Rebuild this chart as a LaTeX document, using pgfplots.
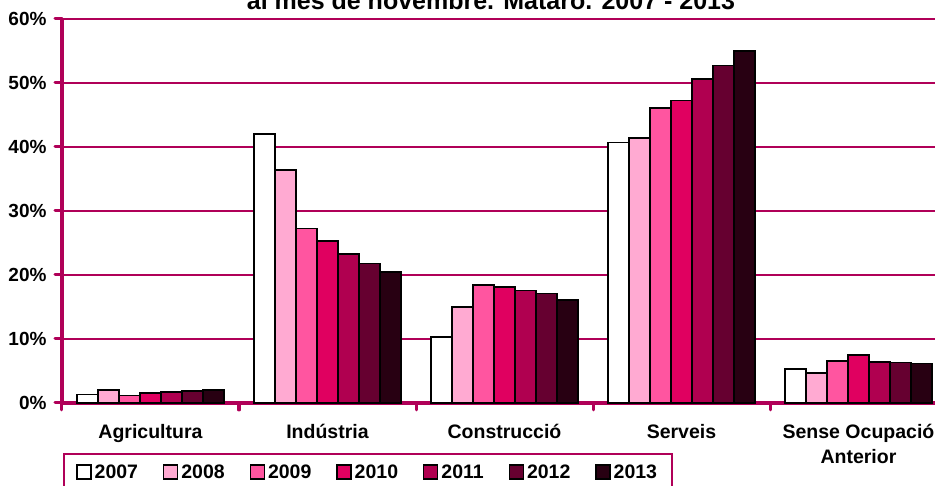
\documentclass[border=0pt]{standalone}
\usepackage{fontspec}
\setmainfont{Liberation Sans}
\usepackage{pgfplots}
\pgfplotsset{compat=1.18}

\definecolor{axcol}{RGB}{176,0,88}
\definecolor{c07}{RGB}{255,255,255}
\definecolor{c08}{RGB}{255,170,210}
\definecolor{c09}{RGB}{255,85,160}
\definecolor{c10}{RGB}{224,0,96}
\definecolor{c11}{RGB}{176,0,80}
\definecolor{c12}{RGB}{102,0,48}
\definecolor{c13}{RGB}{40,0,18}

\begin{document}
\begin{tikzpicture}
\begin{axis}[
    name=ax,
    set layers,
    scale only axis,
    width=885pt, height=384pt,
    ybar=0pt, bar width=21pt,
    xmin=-0.5, xmax=4.5,
    ymin=0, ymax=60,
    ytick={0,10,...,60},
    yticklabel={\pgfmathprintnumber{\tick}\%},
    /pgf/number format/assume math mode=true,
    % ticks at the category borders, names between them
    xtick={-0.5,0.5,...,4.5},
    x tick label as interval,
    xticklabels={Agricultura, Indústria, Construcció, Serveis, {Sense Ocupació\\Anterior}, {}},
    x tick label style={align=center, font=\fontsize{19.5}{25}\selectfont\bfseries, yshift=-11pt},
    y tick label style={font=\fontsize{19}{22}\selectfont\bfseries, xshift=-5pt},
    tick style={draw=axcol, line width=3pt, line cap=round},
    major tick length=7pt,
    tick align=outside,
    axis x line*=bottom, axis y line*=left,
    axis line style={draw=axcol, line width=4pt, -, on layer=axis foreground},
    ymajorgrids, xmajorgrids=false,
    grid style={draw=axcol, line width=2pt},
    clip=false,
    legend columns=7,
    legend style={at={(axis description cs:0.001,-0.129)}, anchor=north west,
        draw=axcol, line width=2pt, font=\fontsize{19.5}{22}\selectfont\bfseries,
        inner xsep=12.5pt, inner ysep=9pt,
        /tikz/every odd column/.append style={column sep=1pt},
        /tikz/every even column/.append style={column sep=23pt}},
    legend image code/.code={\draw[#1, draw=black, line width=1.3pt] (0pt,-7pt) rectangle (14pt,7pt);},
    every axis plot/.append style={draw=black, line width=1.5pt},
]
\addplot[fill=c07] coordinates {(0,1.35) (1,42.0) (2,10.3) (3,40.7) (4,5.3)};
\addplot[fill=c08] coordinates {(0,2.0) (1,36.4) (2,15.0) (3,41.4) (4,4.7)};
\addplot[fill=c09] coordinates {(0,1.2) (1,27.3) (2,18.4) (3,46.1) (4,6.6)};
\addplot[fill=c10] coordinates {(0,1.55) (1,25.3) (2,18.1) (3,47.3) (4,7.5)};
\addplot[fill=c11] coordinates {(0,1.7) (1,23.3) (2,17.6) (3,50.6) (4,6.4)};
\addplot[fill=c12] coordinates {(0,1.85) (1,21.8) (2,17.1) (3,52.7) (4,6.3)};
\addplot[fill=c13] coordinates {(0,2.0) (1,20.5) (2,16.1) (3,55.0) (4,6.2)};
\legend{2007,2008,2009,2010,2011,2012,2013}
\node[anchor=base, font=\fontsize{25}{28}\selectfont\bfseries] at (axis description cs:0.4847,1.0235) {al mes de novembre. Mataró. 2007 - 2013};
\end{axis}
\pgfresetboundingbox
\path[use as bounding box] ([shift={(-62pt,-83pt)}]ax.south west) rectangle ([shift={(873pt,403pt)}]ax.south west);
\end{tikzpicture}
\end{document}
